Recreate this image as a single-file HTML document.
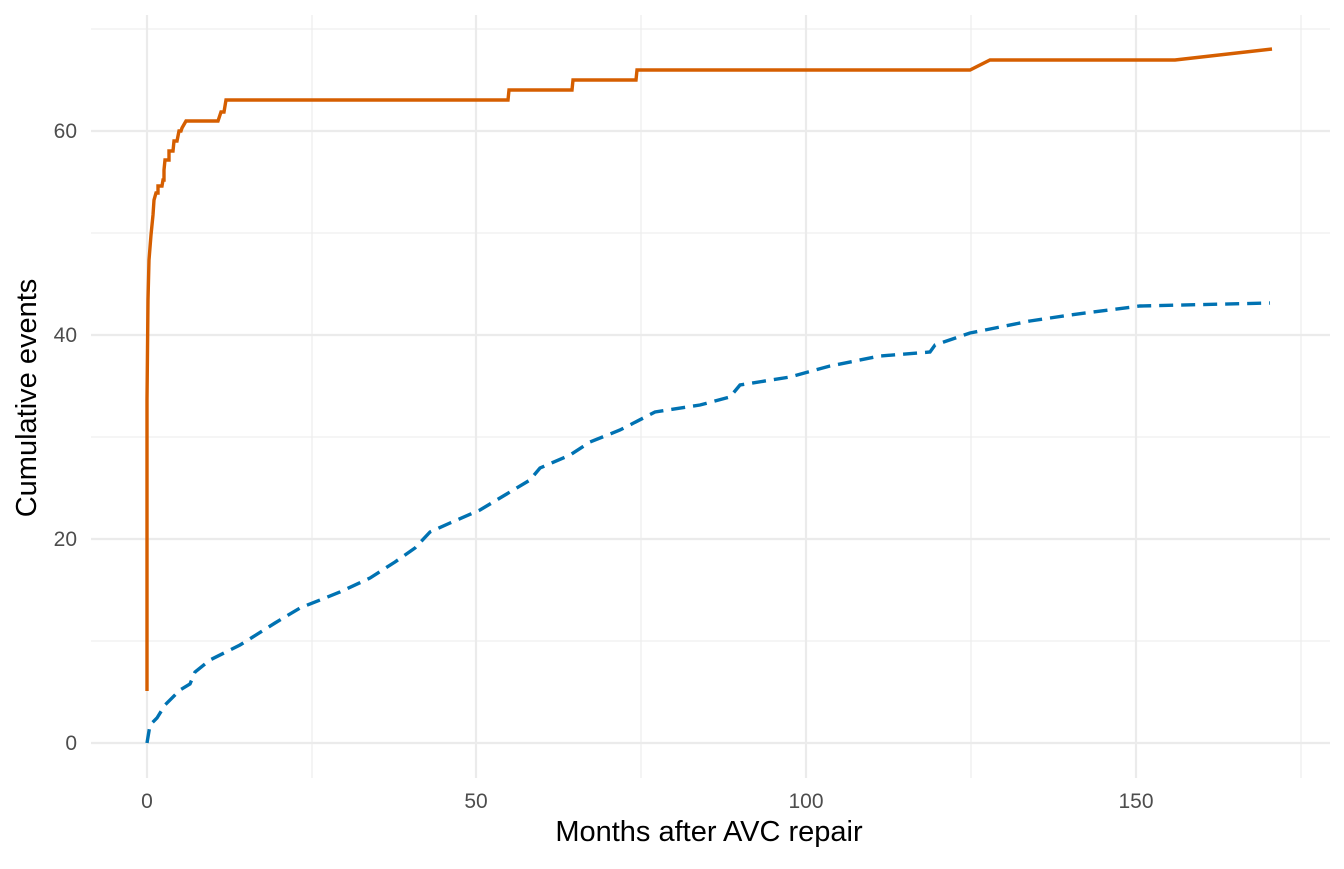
<!DOCTYPE html>
<html><head><meta charset="utf-8"><style>body{margin:0;background:#fff}</style></head><body>
<svg width="1344" height="864" xmlns="http://www.w3.org/2000/svg" font-family="Liberation Sans, sans-serif">
<g stroke="#ebebeb" stroke-width="1.1">
<line x1="91" x2="1330" y1="641" y2="641"/><line x1="91" x2="1330" y1="437" y2="437"/><line x1="91" x2="1330" y1="233" y2="233"/><line x1="91" x2="1330" y1="29" y2="29"/>
<line x1="312" x2="312" y1="15" y2="778"/><line x1="641" x2="641" y1="15" y2="778"/><line x1="971" x2="971" y1="15" y2="778"/><line x1="1301" x2="1301" y1="15" y2="778"/>
</g>
<g stroke="#ebebeb" stroke-width="2.2">
<line x1="91" x2="1330" y1="743" y2="743"/><line x1="91" x2="1330" y1="539" y2="539"/><line x1="91" x2="1330" y1="335" y2="335"/><line x1="91" x2="1330" y1="131" y2="131"/>
<line x1="147" x2="147" y1="15" y2="778"/><line x1="476" x2="476" y1="15" y2="778"/><line x1="806" x2="806" y1="15" y2="778"/><line x1="1136" x2="1136" y1="15" y2="778"/>
</g>
<polyline fill="none" stroke="#0072b2" stroke-width="3.4" stroke-dasharray="14,8" points="147,743 150,725 157,718 165,705 180,690 190,684 195,672 210,660 240,645 275,623 300,608 340,592 370,578 395,562 415,548 430,532 450,523 480,510 505,495 530,480 540,468 570,455 590,442 620,430 655,412 700,405 730,397 740,385 790,377 830,366 880,356 930,352 935,345 970,333 1030,321 1070,315 1140,306 1270,303"/>
<polyline fill="none" stroke="#d55e00" stroke-width="3.4" points="147,691 147,400 148,300 149,260 151,235 153,215 154,200 156,193 158,193 158,186 162,186 163,180 164,180 164,170 165,160 169,160 169,151 173,151 174,141 177,141 179,131 181,131 182,128 186,121 218,121 221,112 224,112 226,100 508,100 509,90 572,90 573,80 636,80 637,70 970,70 990,60 1175,60 1272,49"/>
<g fill="#4d4d4d" font-size="21" text-anchor="end">
<text x="77" y="750">0</text><text x="77" y="546">20</text><text x="77" y="342">40</text><text x="77" y="138">60</text>
</g>
<g fill="#4d4d4d" font-size="21" text-anchor="middle">
<text x="147" y="808">0</text><text x="476" y="808">50</text><text x="806" y="808">100</text><text x="1136" y="808">150</text>
</g>
<text x="709" y="841" font-size="29" text-anchor="middle">Months after AVC repair</text>
<text transform="translate(36,398) rotate(-90)" font-size="29" text-anchor="middle">Cumulative events</text>
</svg>
</body></html>
